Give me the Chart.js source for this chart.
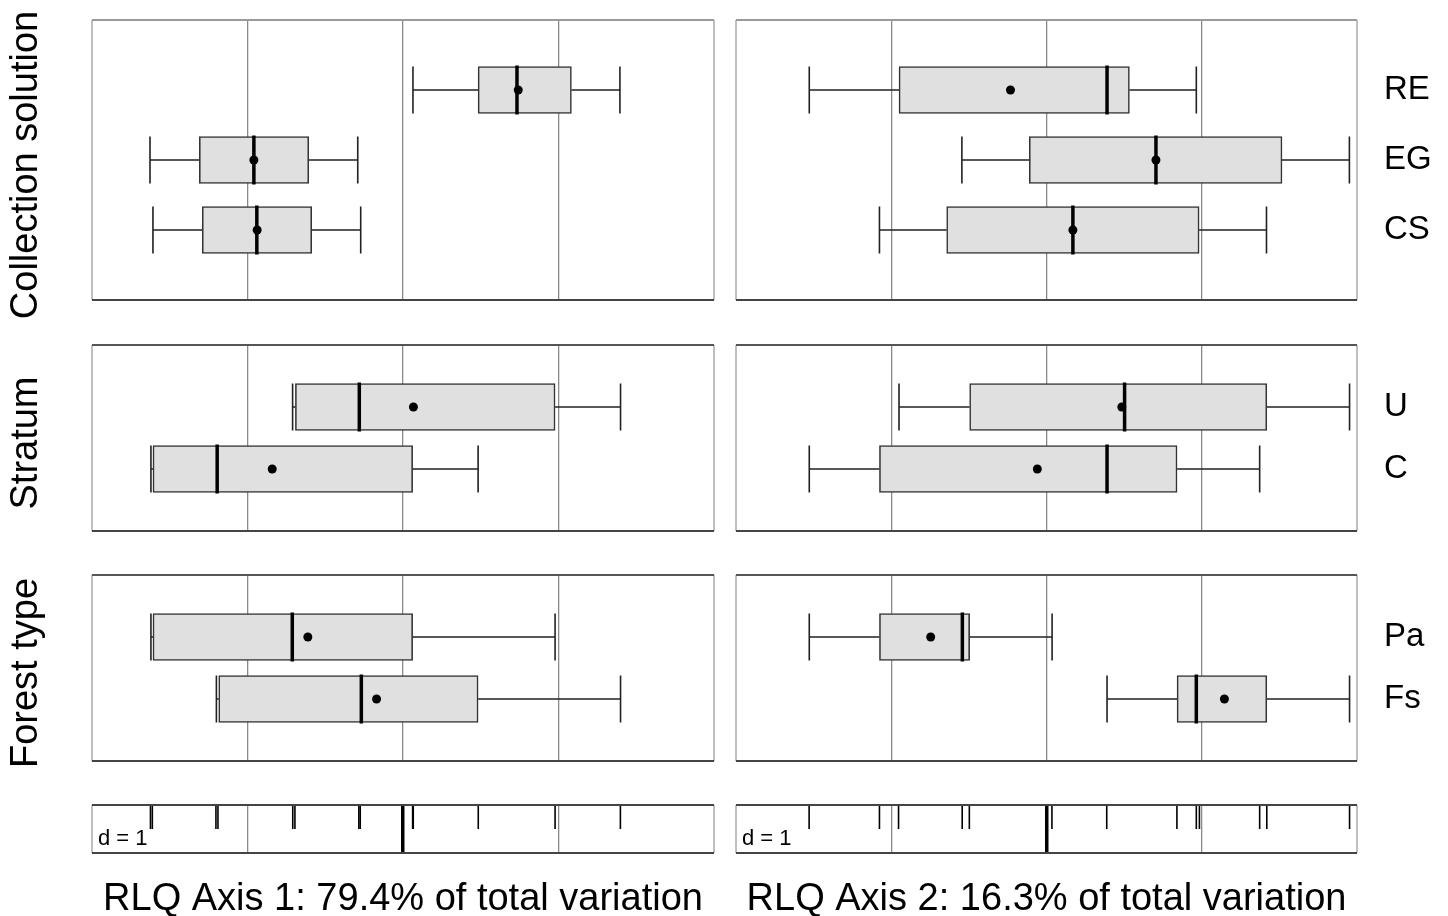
<!DOCTYPE html>
<html lang="en">
<head>
<meta charset="UTF-8">
<title>RLQ axes by factor</title>
<script src="https://cdn.jsdelivr.net/npm/chart.js"></script>
<style>
  body { margin: 0; background: #fff; overflow: hidden; width: 1448px; height: 916px; position: relative; }
  canvas { position: absolute; }
</style>
</head>
<body>
<canvas id="l1"></canvas><canvas id="r1"></canvas>
<canvas id="l2"></canvas><canvas id="r2"></canvas>
<canvas id="l3"></canvas><canvas id="r3"></canvas>
<canvas id="ls"></canvas><canvas id="rs"></canvas>
<script>
// factor levels
const solutionCats = ['RE', 'EG', 'CS'];
const stratumCats = ['U', 'C'];
const forestCats = ['Pa', 'Fs'];
const rowTitles = ['Collection solution', 'Stratum', 'Forest type'];
const axisTitles = ['RLQ Axis 1: 79.4% of total variation', 'RLQ Axis 2: 16.3% of total variation'];

// one row per level: [lower whisker, Q1, median, Q3, upper whisker, mean]
const ax1Solution = [
  [0.064, 0.483, 0.733, 1.083, 1.395, 0.741],
  [-1.627, -1.310, -0.959, -0.606, -0.291, -0.959],
  [-1.608, -1.291, -0.940, -0.587, -0.272, -0.938]
];
const ax1Stratum = [
  [-0.710, -0.692, -0.281, 0.978, 1.399, 0.067],
  [-1.621, -1.608, -1.195, 0.062, 0.483, -0.841]
];
const ax1Forest = [
  [-1.621, -1.608, -0.712, 0.062, 0.978, -0.612],
  [-1.200, -1.185, -0.268, 0.483, 1.399, -0.170]
];
const ax2Solution = [
  [-1.528, -0.950, 0.390, 0.534, 0.965, -0.232],
  [-0.545, -0.111, 0.705, 1.517, 1.951, 0.705],
  [-1.076, -0.643, 0.170, 0.983, 1.417, 0.170]
];
const ax2Stratum = [
  [-0.950, -0.495, 0.503, 1.419, 1.952, 0.485],
  [-1.528, -1.076, 0.390, 0.841, 1.373, -0.059]
];
const ax2Forest = [
  [-1.528, -1.076, -0.542, -0.495, 0.036, -0.746],
  [0.390, 0.841, 0.965, 1.419, 1.952, 1.146]
];

// sample scores shown as a rug in the "d = 1" strips
const ax1Rug = [-1.624, -1.612, -1.203, -1.190, -0.709, -0.695, -0.284, -0.275, 0.062, 0.066, 0.484, 0.978, 1.398];
const ax2Rug = [-1.529, -1.076, -0.953, -0.543, -0.497, 0.035, 0.388, 0.840, 0.965, 0.985, 1.373, 1.419, 1.952];

const xMin = -2, xMax = 2, gridStep = 1;

Chart.defaults.font.family = '"Liberation Sans", Arial, sans-serif';
Chart.defaults.color = '#000';
Chart.defaults.animation = false;

const FONT = '"Liberation Sans", Arial, sans-serif';
const BOX_H = 47;
const M = 30; // spare room round each panel canvas

function place(id, left, top, w, h) {
  const c = document.getElementById(id);
  c.width = w; c.height = h;
  c.style.left = left + 'px'; c.style.top = top + 'px';
  return c;
}

// keep tick labels from shrinking the plot area
function noPad(s) {
  s.paddingTop = 0; s.paddingBottom = 0; s.paddingLeft = 0; s.paddingRight = 0;
}

// frame round the plot area
function framePlugin(topColor) {
  return {
    id: 'frame',
    afterDraw(chart) {
      const { ctx, chartArea: a } = chart;
      ctx.save();
      ctx.lineWidth = 1.5;
      ctx.strokeStyle = '#aaa';
      ctx.beginPath();
      ctx.moveTo(a.left, a.top); ctx.lineTo(a.left, a.bottom);
      ctx.moveTo(a.right, a.top); ctx.lineTo(a.right, a.bottom);
      ctx.stroke();
      ctx.lineWidth = 2;
      ctx.strokeStyle = topColor;
      ctx.beginPath(); ctx.moveTo(a.left, a.top); ctx.lineTo(a.right, a.top); ctx.stroke();
      ctx.strokeStyle = '#444';
      ctx.beginPath(); ctx.moveTo(a.left, a.bottom); ctx.lineTo(a.right, a.bottom); ctx.stroke();
      ctx.restore();
    }
  };
}

// rotated row title on the left of a panel
function rowTitlePlugin(text) {
  return {
    id: 'rowTitle',
    afterDraw(chart) {
      const { ctx, chartArea: a } = chart;
      ctx.save();
      ctx.translate(27, (a.top + a.bottom) / 2 + 5);
      ctx.rotate(-Math.PI / 2);
      ctx.fillStyle = '#000';
      ctx.font = '38px ' + FONT;
      ctx.textAlign = 'center';
      ctx.textBaseline = 'middle';
      ctx.fillText(text, 0, 0);
      ctx.restore();
    }
  };
}

// whiskers under the boxes, medians on top of them
function boxPartsPlugin(stats) {
  return {
    id: 'boxParts',
    beforeDatasetsDraw(chart) {
      const { ctx, scales: { x, y } } = chart;
      ctx.save();
      ctx.strokeStyle = '#222';
      ctx.lineWidth = 1.6;
      stats.forEach((s, i) => {
        const yc = y.getPixelForValue(i + 1);
        const h = BOX_H / 2;
        const lo = x.getPixelForValue(s[0]), q1 = x.getPixelForValue(s[1]);
        const q3 = x.getPixelForValue(s[3]), hi = x.getPixelForValue(s[4]);
        ctx.beginPath();
        ctx.moveTo(lo, yc); ctx.lineTo(q1, yc);
        ctx.moveTo(q3, yc); ctx.lineTo(hi, yc);
        ctx.moveTo(lo, yc - h); ctx.lineTo(lo, yc + h);
        ctx.moveTo(hi, yc - h); ctx.lineTo(hi, yc + h);
        ctx.stroke();
      });
      ctx.restore();
    },
    afterDatasetDraw(chart, args) {
      if (args.meta.type !== 'bar') return;
      const { ctx, scales: { x, y } } = chart;
      ctx.save();
      ctx.strokeStyle = '#000';
      ctx.lineWidth = 3.5;
      stats.forEach((s, i) => {
        const yc = y.getPixelForValue(i + 1);
        const m = x.getPixelForValue(s[2]);
        ctx.beginPath();
        ctx.moveTo(m, yc - BOX_H / 2 - 1); ctx.lineTo(m, yc + BOX_H / 2 + 1);
        ctx.stroke();
      });
      ctx.restore();
    }
  };
}

function xGrid(zeroColor, zeroWidth) {
  return {
    drawTicks: false,
    color: c => (c.tick.value <= xMin || c.tick.value >= xMax) ? 'rgba(0,0,0,0)' : (c.tick.value === 0 ? zeroColor : '#8a8a8a'),
    lineWidth: c => c.tick.value === 0 ? zeroWidth : 1.3
  };
}

function panel(id, side, row, cats, stats) {
  const rows = [{ top: 20, h: 280 }, { top: 345, h: 186 }, { top: 575, h: 186 }];
  const r = rows[row];
  const isLeft = side === 'L';
  const canvas = isLeft ? place(id, 0, r.top - M, 726, r.h + 2 * M)
                        : place(id, 720, r.top - M, 728, r.h + 2 * M);
  const labels = [''].concat(cats, ['']);
  const boxes = [null].concat(stats.map(s => [s[1], s[3]]), [null]);
  const means = [null].concat(stats.map(s => s[5]), [null]);

  const yAxis = isLeft ? {
    type: 'category', position: 'left', labels: labels, offset: false,
    grid: { display: false, drawTicks: false }, border: { display: false },
    ticks: { display: false },
    afterFit: s => { s.width = 92; noPad(s); }
  } : {
    type: 'category', position: 'right', labels: labels, offset: false,
    grid: { display: false, drawTicks: false }, border: { display: false },
    ticks: { display: true, autoSkip: false, padding: 27, color: '#000', font: { size: 33, family: FONT } },
    afterFit: s => { s.width = 91; noPad(s); }
  };

  const plugins = [boxPartsPlugin(stats), framePlugin(row === 0 ? '#9a9a9a' : '#555')];
  if (isLeft) plugins.push(rowTitlePlugin(rowTitles[row]));

  return new Chart(canvas, {
    type: 'bar',
    data: {
      labels: labels,
      datasets: [
        {
          type: 'bar', data: boxes, order: 2,
          backgroundColor: '#e0e0e0', borderColor: '#333', borderWidth: 1.6,
          borderSkipped: false, barThickness: BOX_H
        },
        {
          type: 'line', data: means, order: 1, showLine: false,
          pointRadius: 4.5, pointBackgroundColor: '#000', pointBorderWidth: 0
        }
      ]
    },
    options: {
      indexAxis: 'y',
      responsive: false,
      layout: {
        autoPadding: false,
        padding: isLeft ? { top: M, left: 0, right: 12, bottom: 0 } : { top: M, left: 16, right: 0, bottom: 0 }
      },
      plugins: { legend: { display: false }, tooltip: { enabled: false } },
      scales: {
        x: {
          type: 'linear', position: 'bottom', min: xMin, max: xMax,
          ticks: { display: false, stepSize: gridStep },
          grid: xGrid('#8a8a8a', 1.3), border: { display: false },
          afterFit: s => { s.height = M; noPad(s); }
        },
        y: yAxis
      }
    },
    plugins: plugins
  });
}

function strip(id, side, rug, title) {
  const isLeft = side === 'L';
  const canvas = isLeft ? place(id, 0, 785, 730, 137) : place(id, 716, 785, 732, 137);
  return new Chart(canvas, {
    type: 'scatter',
    data: {
      datasets: [{
        data: rug.map(v => ({ x: v, y: 0.75 })),
        pointStyle: 'line', rotation: 90, radius: 12,
        borderColor: '#000', borderWidth: 1.6
      }]
    },
    options: {
      responsive: false,
      layout: {
        autoPadding: false,
        padding: isLeft ? { top: 20, left: 92, right: 16, bottom: 0 } : { top: 20, left: 20, right: 91, bottom: 0 }
      },
      plugins: { legend: { display: false }, tooltip: { enabled: false } },
      scales: {
        x: {
          type: 'linear', min: xMin, max: xMax,
          ticks: { display: false, stepSize: gridStep },
          grid: xGrid('#000', 3.5), border: { display: false },
          title: { display: true, text: title, color: '#000', font: { size: 38, family: FONT }, padding: { top: 0, bottom: 0 } },
          afterFit: s => { s.height = 69; noPad(s); }
        },
        y: { type: 'linear', min: 0, max: 1, display: false }
      }
    },
    plugins: [framePlugin('#444'), {
      id: 'scaleNote',
      afterDraw(chart) {
        const { ctx, chartArea: a } = chart;
        ctx.save();
        ctx.fillStyle = '#000';
        ctx.font = '22px ' + FONT;
        ctx.textBaseline = 'alphabetic';
        ctx.fillText('d = ' + gridStep, a.left + 6, a.bottom - 8);
        ctx.restore();
      }
    }]
  });
}

panel('l1', 'L', 0, solutionCats, ax1Solution);
panel('r1', 'R', 0, solutionCats, ax2Solution);
panel('l2', 'L', 1, stratumCats, ax1Stratum);
panel('r2', 'R', 1, stratumCats, ax2Stratum);
panel('l3', 'L', 2, forestCats, ax1Forest);
panel('r3', 'R', 2, forestCats, ax2Forest);
strip('ls', 'L', ax1Rug, axisTitles[0]);
strip('rs', 'R', ax2Rug, axisTitles[1]);
</script>
</body>
</html>
